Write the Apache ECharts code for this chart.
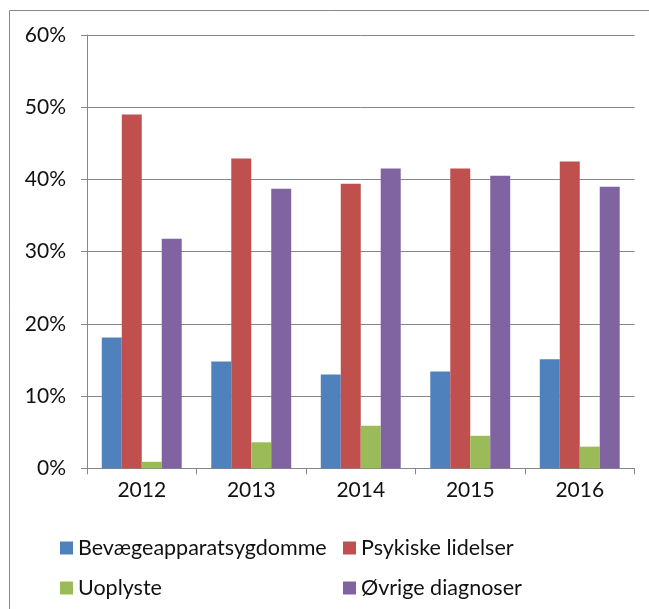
<!DOCTYPE html>
<html><head><meta charset="utf-8">
<script src="https://cdn.jsdelivr.net/npm/echarts@6/dist/echarts.min.js"></script>
<style>html,body{margin:0;padding:0;background:#fff}#c{width:649px;height:609px}</style>
</head><body><div id="c"></div>
<script>
var categories = ['2012', '2013', '2014', '2015', '2016'];
var seriesNames = ['Bevægeapparatsygdomme', 'Psykiske lidelser', 'Uoplyste', 'Øvrige diagnoser'];
var bevaege = [18.1, 14.8, 13.0, 13.4, 15.1];
var psykiske = [49.0, 42.9, 39.4, 41.5, 42.5];
var uoplyste = [0.9, 3.6, 5.9, 4.5, 3.0];
var ovrige = [31.8, 38.7, 41.5, 40.5, 39.0];
var yTicks = [0, 10, 20, 30, 40, 50, 60];
var colors = ['#4F81BD', '#C0504D', '#9BBB59', '#8064A2'];

var font = 'Lato';
var chart = echarts.init(document.getElementById('c'), null, {renderer: 'canvas'});
function leg(name, left, top) {
  return {data: [name], left: left, top: top, orient: 'horizontal', icon: 'rect',
    itemWidth: 13, itemHeight: 13, itemGap: 6, selectedMode: false,
    textStyle: {fontFamily: font, fontSize: 21.5, color: '#111', padding: [0, 0, 0, 0]}};
}
var data = [bevaege, psykiske, uoplyste, ovrige];
chart.setOption({
  animation: false,
  color: colors,
  graphic: [{type: 'polyline', shape: {points: [[9.5, 620], [9.5, 10.5], [660, 10.5]]},
    style: {stroke: '#888', lineWidth: 1, fill: null}}],
  grid: {left: 87, right: 14.5, top: 35, bottom: 140.7, containLabel: false},
  legend: [leg(seriesNames[0], 55, 532), leg(seriesNames[1], 338, 532), leg(seriesNames[2], 55, 572), leg(seriesNames[3], 338, 572)],
  xAxis: {type: 'category', data: categories,
    axisLine: {lineStyle: {color: '#868686', width: 1}},
    axisTick: {show: true, length: 6, lineStyle: {color: '#868686'}},
    axisLabel: {fontFamily: font, fontSize: 21, color: '#111', margin: 11}},
  yAxis: {type: 'value', min: 0, max: 60, interval: 10,
    axisLine: {show: true, lineStyle: {color: '#868686'}},
    axisTick: {show: true, length: 6, lineStyle: {color: '#868686'}},
    splitLine: {lineStyle: {color: '#868686', width: 1}},
    axisLabel: {fontFamily: font, fontSize: 21, color: '#111', margin: 21,
      formatter: function (v) { return yTicks.indexOf(v) >= 0 ? v + '%' : ''; }}},
  series: data.map(function (d, i) {
    return {name: seriesNames[i], type: 'bar', data: d, barGap: '0%', barCategoryGap: '27%',
      itemStyle: {color: colors[i]}};
  })
});
</script></body></html>
